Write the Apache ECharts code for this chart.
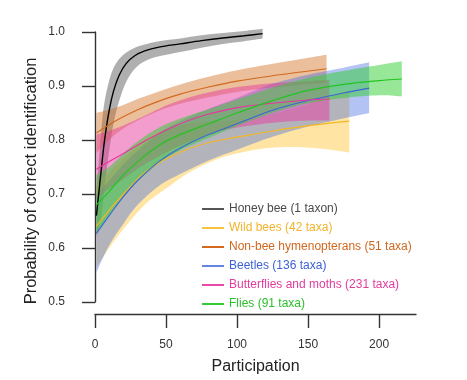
<!DOCTYPE html>
<html>
<head>
<meta charset="utf-8">
<script src="https://cdn.jsdelivr.net/npm/echarts@6/dist/echarts.min.js"></script>
<style>html,body{margin:0;padding:0;background:#fff}#c{width:467px;height:380px}</style>
</head>
<body>
<div id="c"></div>
<script>
// ---- data ----
const xTicks = [0, 50, 100, 150, 200];
const yTicks = [0.5, 0.6, 0.7, 0.8, 0.9, 1.0];

const honeyX   = [1, 3, 5, 7, 10, 13, 17, 22, 28, 35, 45, 60, 75, 90, 105, 118];
const honeyMid = [0.66,0.71,0.76,0.805,0.855,0.89,0.92,0.942,0.956,0.965,0.972,0.978,0.984,0.989,0.993,0.997];
const honeyLo  = [0.62,0.64,0.67,0.72,0.78,0.83,0.872,0.908,0.932,0.946,0.955,0.963,0.971,0.978,0.983,0.988];
const honeyHi  = [0.71,0.77,0.835,0.875,0.91,0.933,0.95,0.962,0.971,0.977,0.983,0.988,0.994,0.998,1.002,1.006];

const wildX   = [1, 10, 20, 35, 50, 65, 80, 95, 115, 135, 155, 179];
const wildMid = [0.64,0.67,0.70,0.74,0.765,0.783,0.795,0.803,0.812,0.821,0.828,0.835];
const wildLo  = [0.565,0.60,0.635,0.68,0.71,0.738,0.758,0.772,0.783,0.787,0.785,0.777];
const wildHi  = [0.715,0.74,0.765,0.80,0.82,0.83,0.834,0.836,0.842,0.855,0.871,0.893];

const hymX   = [1, 15, 30, 45, 60, 80, 100, 125, 145, 163];
const hymMid = [0.813,0.836,0.856,0.872,0.885,0.898,0.909,0.919,0.926,0.932];
const hymLo  = [0.776,0.812,0.836,0.854,0.867,0.879,0.889,0.897,0.902,0.906];
const hymHi  = [0.85,0.86,0.876,0.89,0.903,0.917,0.929,0.941,0.95,0.958];

const beetX   = [1, 10, 20, 30, 45, 60, 80, 100, 125, 150, 175, 193];
const beetMid = [0.627,0.66,0.695,0.725,0.76,0.785,0.81,0.83,0.855,0.873,0.887,0.896];
const beetLo  = [0.555,0.605,0.645,0.68,0.715,0.737,0.762,0.782,0.806,0.825,0.84,0.85];
const beetHi  = [0.70,0.725,0.755,0.78,0.813,0.835,0.858,0.878,0.904,0.921,0.934,0.944];

const butX   = [1, 10, 20, 35, 50, 65, 80, 100, 125, 150, 165];
const butMid = [0.746,0.76,0.775,0.798,0.818,0.835,0.848,0.86,0.868,0.874,0.876];
const butLo  = [0.69,0.71,0.728,0.755,0.777,0.795,0.81,0.823,0.832,0.836,0.836];
const butHi  = [0.81,0.817,0.827,0.845,0.864,0.878,0.888,0.898,0.905,0.909,0.911];

const flyX   = [1, 10, 20, 30, 45, 60, 80, 100, 125, 150, 175, 200, 216];
const flyMid = [0.68,0.705,0.735,0.76,0.79,0.81,0.83,0.85,0.873,0.892,0.903,0.91,0.913];
const flyLo  = [0.627,0.66,0.695,0.723,0.757,0.781,0.804,0.826,0.85,0.868,0.878,0.883,0.881];
const flyHi  = [0.735,0.75,0.775,0.797,0.823,0.84,0.857,0.875,0.897,0.915,0.928,0.939,0.946];

const groups = [
  {name:'Honey bee (1 taxon)', x:honeyX, mid:honeyMid, lo:honeyLo, hi:honeyHi, line:'#000000', band:'rgba(95,95,95,0.5)', text:'#4a4a4a', icon:'#555555', w:1.4},
  {name:'Wild bees (42 taxa)', x:wildX, mid:wildMid, lo:wildLo, hi:wildHi, line:'#F5B820', band:'rgba(255,195,50,0.45)', text:'#F2B32A', icon:'#F7C340', w:1.1},
  {name:'Non-bee hymenopterans (51 taxa)', x:hymX, mid:hymMid, lo:hymLo, hi:hymHi, line:'#D2691E', band:'rgba(210,110,35,0.45)', text:'#D0671E', icon:'#D2691E', w:1.1},
  {name:'Beetles (136 taxa)', x:beetX, mid:beetMid, lo:beetLo, hi:beetHi, line:'#3F63D8', band:'rgba(65,105,225,0.4)', text:'#3E62D6', icon:'#6585E0', w:1.1},
  {name:'Butterflies and moths (231 taxa)', x:butX, mid:butMid, lo:butLo, hi:butHi, line:'#E8349E', band:'rgba(232,60,160,0.5)', text:'#E23C9E', icon:'#E84AA6', w:1.1},
  {name:'Flies (91 taxa)', x:flyX, mid:flyMid, lo:flyLo, hi:flyHi, line:'#22C422', band:'rgba(50,205,50,0.5)', text:'#2CBF2C', icon:'#33CC33', w:1.2}
];

// Catmull-Rom -> cubic bezier path through screen points (rendering only)
function curvePath(pts, start) {
  let d = start ? 'M' + pts[0][0] + ',' + pts[0][1] : 'L' + pts[0][0] + ',' + pts[0][1];
  const t = 1 / 3;
  for (let i = 0; i < pts.length - 1; i++) {
    const p0 = pts[i - 1] || pts[i], p1 = pts[i], p2 = pts[i + 1], p3 = pts[i + 2] || pts[i + 1];
    const c1x = p1[0] + (p2[0] - p0[0]) * t / 2, c1y = p1[1] + (p2[1] - p0[1]) * t / 2;
    const c2x = p2[0] - (p3[0] - p1[0]) * t / 2, c2y = p2[1] - (p3[1] - p1[1]) * t / 2;
    d += 'C' + c1x + ',' + c1y + ',' + c2x + ',' + c2y + ',' + p2[0] + ',' + p2[1];
  }
  return d;
}

const series = [];
groups.forEach((g, i) => {
  series.push({
    type:'custom', name:'_band'+i, silent:true, clip:false, z:2,
    data:[[g.x[0], g.mid[0]]],
    encode:{x:0, y:1},
    renderItem:(params, api) => {
      const up = g.x.map((x,k)=>api.coord([x, g.hi[k]]));
      const dn = g.x.map((x,k)=>api.coord([x, g.lo[k]])).reverse();
      const d = curvePath(up, true) + curvePath(dn, false) + 'Z';
      return {type:'path', shape:{pathData:d}, style:{fill:g.band, stroke:null}};
    }
  });
  series.push({
    type:'line', name:g.name, smooth:0.35, showSymbol:false,
    data:g.x.map((x,k)=>[x, g.mid[k]]), clip:false, z:3,
    itemStyle:{color:g.line}, lineStyle:{color:g.line, width:g.w}
  });
});

const chart = echarts.init(document.getElementById('c'), null, {renderer:'canvas'});
chart.setOption({
  animation:false,
  backgroundColor:'#ffffff',
  grid:{left:95, right:51, top:32, bottom:72, containLabel:false},
  xAxis:{
    type:'value', min:0, max:226, offset:12,
    axisLine:{show:true, lineStyle:{color:'#333', width:1.4}},
    axisTick:{show:true, length:14, customValues:xTicks, lineStyle:{color:'#333', width:1.4}},
    axisLabel:{customValues:xTicks, margin:25, color:'#333', fontSize:12, fontFamily:'Liberation Sans, Arial, sans-serif'},
    splitLine:{show:false},
    name:'Participation', nameLocation:'middle', nameGap:45,
    nameTextStyle:{fontSize:16, color:'#222', fontFamily:'Liberation Sans, Arial, sans-serif'}
  },
  yAxis:{
    type:'value', min:0.5, max:1.0, offset:11,
    axisLine:{show:true, lineStyle:{color:'#333', width:1.4}},
    axisTick:{show:true, length:13, customValues:yTicks, lineStyle:{color:'#333', width:1.4}},
    axisLabel:{customValues:yTicks, margin:19, color:'#333', fontSize:12, fontFamily:'Liberation Sans, Arial, sans-serif',
      formatter:v=>Number(v).toFixed(1)},
    splitLine:{show:false}
  },
  legend:{
    orient:'vertical', left:197, top:197, icon:'rect', itemWidth:22, itemHeight:2, itemGap:5,
    textStyle:{fontSize:12, lineHeight:14, fontFamily:'Liberation Sans, Arial, sans-serif'},
    data:groups.map(g=>({name:g.name, itemStyle:{color:g.icon}, textStyle:{color:g.text}})),
    selectedMode:false
  },
  graphic:[{
    type:'text', x:31, y:181, rotation:Math.PI/2,
    style:{text:'Probability of correct identification', fontSize:16.5, fill:'#222',
      fontFamily:'Liberation Sans, Arial, sans-serif', textAlign:'center', textVerticalAlign:'middle'}
  }],
  series:series
});
</script>
</body>
</html>
